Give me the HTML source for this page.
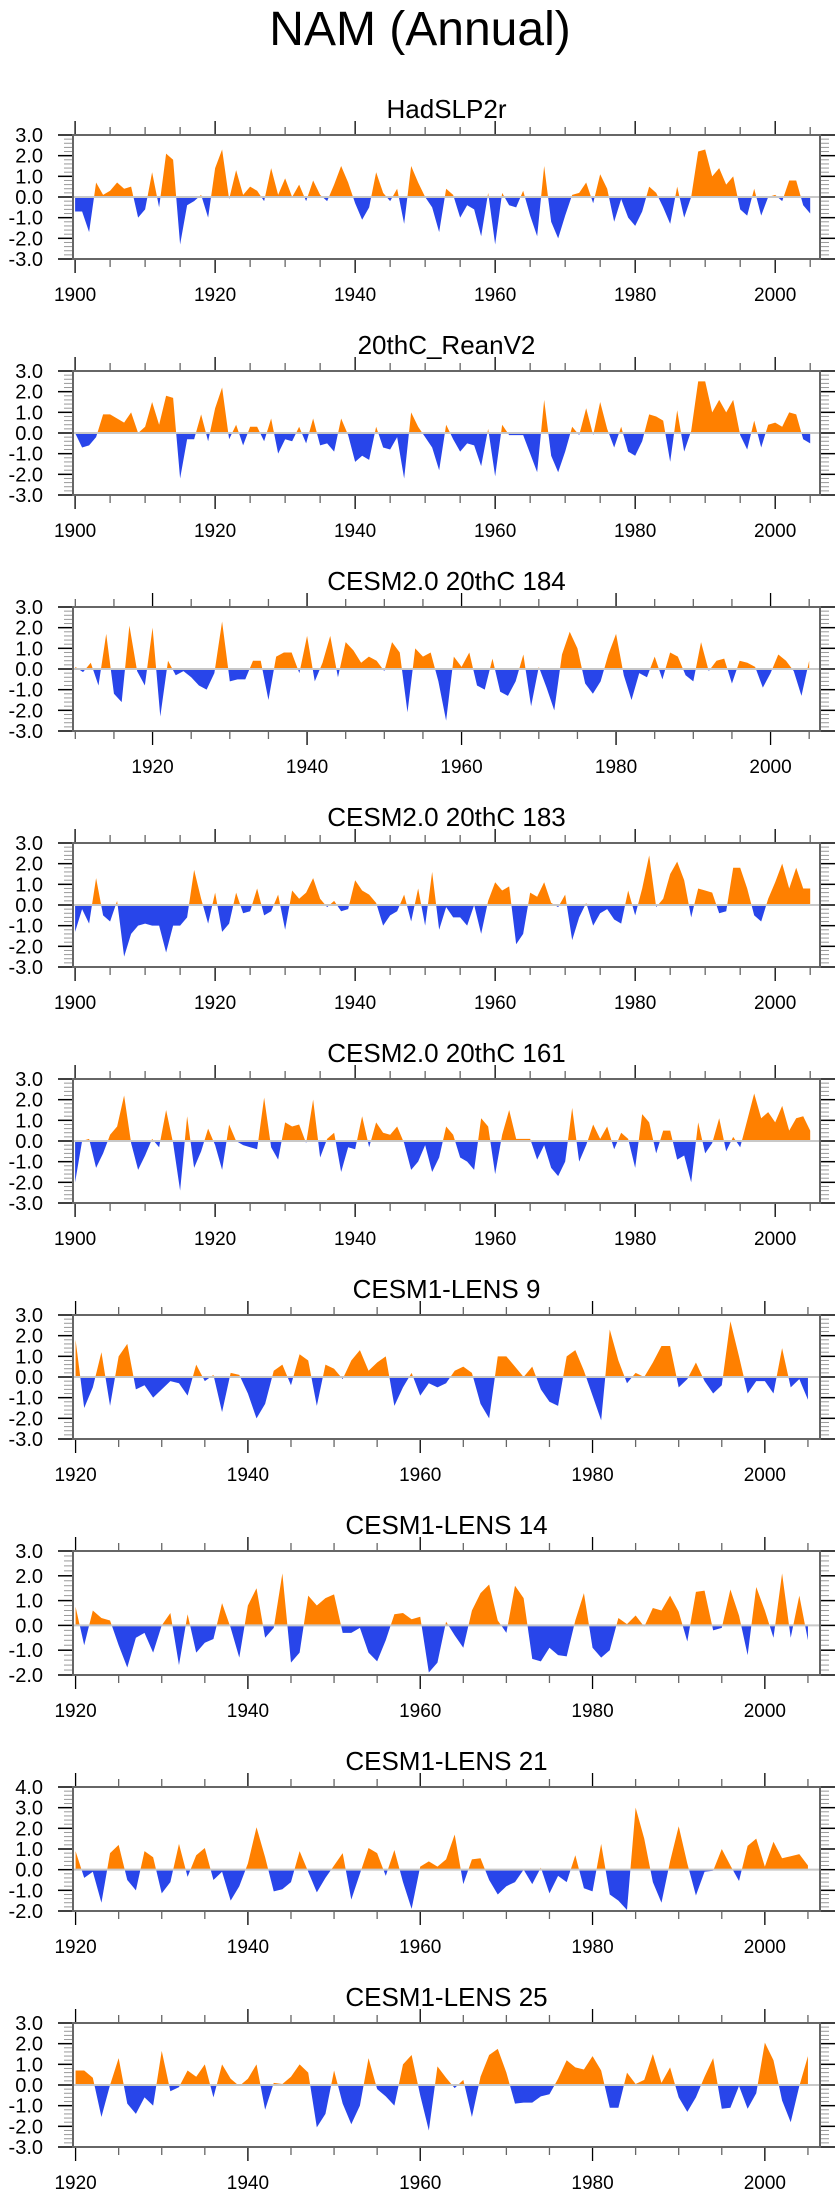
<!DOCTYPE html>
<html><head><meta charset="utf-8"><title>NAM (Annual)</title>
<style>
html,body{margin:0;padding:0;background:#fff;}
svg{display:block;font-family:"Liberation Sans",Arial,sans-serif;}
</style></head>
<body>
<svg id="fig" width="840" height="2200" viewBox="0 0 840 2200" xmlns="http://www.w3.org/2000/svg">
<rect width="840" height="2200" fill="#fff"/>
<text x="420" y="45" font-size="48" text-anchor="middle" fill="#000">NAM (Annual)</text>
</svg>
<script>
const panelTitles = ["HadSLP2r","20thC_ReanV2","CESM2.0 20thC 184","CESM2.0 20thC 183","CESM2.0 20thC 161","CESM1-LENS 9","CESM1-LENS 14","CESM1-LENS 21","CESM1-LENS 25"];
const startYears = [1900,1900,1910,1900,1900,1920,1920,1920,1920];
const yMins = [-3,-3,-3,-3,-3,-3,-2,-2,-3];
const yMaxs = [3,3,3,3,3,3,3,4,3];
const yTickLabels = [["-3.0","-2.0","-1.0","0.0","1.0","2.0","3.0"],["-3.0","-2.0","-1.0","0.0","1.0","2.0","3.0"],["-3.0","-2.0","-1.0","0.0","1.0","2.0","3.0"],["-3.0","-2.0","-1.0","0.0","1.0","2.0","3.0"],["-3.0","-2.0","-1.0","0.0","1.0","2.0","3.0"],["-3.0","-2.0","-1.0","0.0","1.0","2.0","3.0"],["-2.0","-1.0","0.0","1.0","2.0","3.0"],["-2.0","-1.0","0.0","1.0","2.0","3.0","4.0"],["-3.0","-2.0","-1.0","0.0","1.0","2.0","3.0"]];

const hadslp2r = [-0.7,-0.7,-1.7,0.7,0.1,0.3,0.7,0.4,0.5,-1.0,-0.6,1.2,-0.5,2.1,1.8,-2.3,-0.4,-0.2,0.1,-1.0,1.4,2.3,-0.1,1.3,0.1,0.5,0.3,-0.2,1.4,0.1,0.9,0.0,0.6,-0.2,0.8,0.1,-0.2,0.6,1.5,0.7,-0.3,-1.1,-0.5,1.2,0.2,-0.2,0.4,-1.3,1.5,0.7,0.0,-0.5,-1.7,0.4,0.1,-1.0,-0.4,-0.6,-1.9,0.2,-2.3,0.2,-0.4,-0.5,0.3,-0.9,-1.9,1.5,-1.2,-2.0,-0.9,0.1,0.2,0.7,-0.3,1.1,0.4,-1.2,-0.1,-1.0,-1.4,-0.7,0.5,0.2,-0.5,-1.3,0.5,-1.0,0.0,2.2,2.3,1.0,1.4,0.6,1.0,-0.6,-0.9,0.4,-0.9,0.0,0.1,-0.2,0.8,0.8,-0.4,-0.8];
const reanV2 = [0.0,-0.7,-0.6,-0.2,0.9,0.9,0.7,0.5,1.0,0.0,0.3,1.5,0.4,1.8,1.7,-2.2,-0.3,-0.3,0.9,-0.4,1.2,2.2,-0.3,0.4,-0.6,0.3,0.3,-0.4,0.7,-1.0,-0.3,-0.4,0.3,-0.5,0.7,-0.6,-0.5,-0.9,0.7,-0.1,-1.4,-1.1,-1.3,0.3,-0.7,-0.8,-0.2,-2.2,1.0,0.3,-0.2,-0.7,-1.8,0.4,-0.3,-0.9,-0.5,-0.6,-1.6,0.2,-2.1,0.4,-0.1,-0.1,-0.1,-1.0,-1.9,1.6,-1.1,-1.9,-0.9,0.3,-0.1,1.2,-0.1,1.5,0.2,-0.7,0.3,-0.9,-1.1,-0.4,0.9,0.8,0.6,-1.4,1.1,-0.9,0.1,2.5,2.5,1.0,1.6,1.0,1.6,-0.1,-0.8,0.6,-0.7,0.4,0.5,0.3,1.0,0.9,-0.3,-0.5];
const cesm2m184 = [0.1,-0.15,0.3,-0.8,1.7,-1.2,-1.6,2.1,-0.1,-0.8,2.0,-2.3,0.4,-0.3,-0.1,-0.4,-0.8,-1.0,-0.2,2.3,-0.6,-0.5,-0.5,0.4,0.4,-1.5,0.6,0.8,0.8,-0.2,1.6,-0.6,0.3,1.6,-0.4,1.3,0.9,0.3,0.6,0.4,-0.1,1.3,0.8,-2.1,1.0,0.6,0.8,-0.6,-2.5,0.6,0.1,0.8,-0.8,-1.0,0.5,-1.1,-1.3,-0.6,0.7,-1.8,0.1,-0.9,-2.0,0.7,1.8,1.0,-0.7,-1.2,-0.6,0.7,1.7,-0.3,-1.5,-0.2,-0.4,0.6,-0.5,0.8,0.6,-0.3,-0.6,1.3,-0.1,0.4,0.5,-0.7,0.4,0.3,0.1,-0.9,-0.2,0.7,0.4,-0.1,-1.3,0.4];
const cesm2m183 = [-1.3,-0.2,-0.9,1.3,-0.5,-0.8,0.2,-2.5,-1.4,-1.0,-0.9,-1.0,-1.0,-2.3,-1.0,-1.0,-0.6,1.7,0.3,-0.9,0.6,-1.3,-0.9,0.6,-0.4,-0.3,0.8,-0.5,-0.3,0.5,-1.2,0.7,0.3,0.6,1.3,0.3,-0.1,0.2,-0.3,-0.2,1.2,0.7,0.5,0.1,-1.0,-0.5,-0.3,0.5,-0.8,0.8,-1.0,1.6,-1.2,-0.1,-0.6,-0.6,-1.0,0.0,-1.4,0.2,1.1,0.7,0.9,-1.9,-1.4,0.6,0.4,1.1,0.1,-0.1,0.5,-1.7,-0.6,0.1,-1.0,-0.4,-0.2,-0.7,-0.9,0.7,-0.5,0.8,2.4,-0.1,0.3,1.5,2.1,1.2,-0.6,0.8,0.7,0.6,-0.4,-0.3,1.8,1.8,0.8,-0.5,-0.8,0.3,1.1,2.0,0.8,1.8,0.8,0.8];
const cesm2m161 = [-2.0,0.0,0.1,-1.3,-0.6,0.3,0.7,2.2,-0.1,-1.4,-0.7,0.1,-0.3,1.5,-0.1,-2.4,1.2,-1.3,-0.5,0.6,-0.2,-1.4,0.8,0.0,-0.2,-0.3,-0.4,2.1,-0.3,-0.9,0.9,0.7,0.8,-0.1,2.0,-0.8,0.1,0.4,-1.5,-0.3,-0.4,1.2,-0.3,0.9,0.4,0.3,0.7,-0.1,-1.4,-1.0,-0.2,-1.5,-0.8,0.7,0.3,-0.8,-1.0,-1.4,1.1,0.7,-1.6,0.3,1.5,0.1,0.1,0.1,-0.9,-0.2,-1.3,-1.7,-1.0,1.6,-1.0,-0.2,0.8,0.1,0.7,-0.4,0.4,0.1,-1.3,1.3,0.9,-0.6,0.5,0.5,-0.9,-0.7,-2.0,0.9,-0.6,-0.1,1.1,-0.5,0.2,-0.3,1.0,2.3,1.1,1.4,0.9,1.7,0.5,1.1,1.2,0.5];
const lens9 = [1.8,-1.5,-0.5,1.2,-1.4,1.0,1.6,-0.6,-0.4,-1.0,-0.6,-0.2,-0.3,-0.9,0.6,-0.2,0.1,-1.7,0.2,0.1,-0.8,-2.0,-1.3,0.3,0.6,-0.4,1.1,0.8,-1.4,0.6,0.4,-0.1,0.8,1.3,0.3,0.7,1.0,-1.4,-0.5,0.2,-0.9,-0.3,-0.5,-0.3,0.3,0.5,0.2,-1.3,-2.0,1.0,1.0,0.5,0.0,0.5,-0.6,-1.2,-1.4,1.0,1.3,0.3,-0.9,-2.1,2.3,0.8,-0.3,0.2,0.0,0.7,1.5,1.5,-0.5,-0.1,0.7,-0.2,-0.8,-0.4,2.7,1.0,-0.8,-0.2,-0.2,-0.8,1.4,-0.5,-0.1,-1.1];
const lens14 = [0.75,-0.8,0.6,0.3,0.2,-0.8,-1.7,-0.5,-0.3,-1.1,0.0,0.5,-1.6,0.45,-1.1,-0.7,-0.55,0.9,-0.1,-1.3,0.8,1.5,-0.5,-0.1,2.1,-1.5,-1.1,1.2,0.8,1.1,1.25,-0.3,-0.3,-0.1,-1.1,-1.45,-0.6,0.45,0.5,0.25,0.35,-1.9,-1.5,0.15,-0.4,-0.9,0.6,1.3,1.65,0.2,-0.3,1.6,1.1,-1.35,-1.45,-0.9,-1.2,-1.25,0.2,1.3,-0.9,-1.3,-1.0,0.3,0.05,0.4,-0.05,0.7,0.6,1.2,0.55,-0.65,1.35,1.4,-0.2,-0.1,1.45,0.4,-1.2,1.55,0.6,-0.5,2.1,-0.5,1.2,-0.6];
const lens21 = [0.9,-0.4,-0.1,-1.6,0.8,1.2,-0.5,-1.0,0.9,0.6,-1.15,-0.6,1.25,-0.35,0.7,1.05,-0.5,-0.1,-1.5,-0.8,0.3,2.05,0.6,-1.05,-0.95,-0.6,0.9,-0.1,-1.1,-0.4,0.2,0.8,-1.45,-0.2,1.05,0.8,-0.3,0.95,-0.6,-1.9,0.15,0.4,0.15,0.5,1.7,-0.7,0.5,0.55,-0.5,-1.2,-0.8,-0.6,0.0,-0.7,0.1,-1.15,-0.3,-0.6,0.7,-0.9,-1.05,1.25,-1.2,-1.5,-1.95,3.0,1.5,-0.6,-1.6,0.4,2.1,0.3,-1.25,-0.1,-0.05,1.0,0.2,-0.55,1.15,1.5,0.15,1.35,0.55,0.65,0.75,0.2];
const lens25 = [0.7,0.7,0.35,-1.55,0.0,1.3,-0.9,-1.4,-0.6,-1.0,1.65,-0.3,-0.1,0.7,0.4,1.0,-0.6,1.0,0.3,-0.05,0.3,1.0,-1.2,0.1,0.05,0.4,1.0,0.6,-2.05,-1.4,0.7,-0.9,-1.9,-1.0,1.3,-0.2,-0.55,-1.0,1.0,1.45,-0.5,-2.2,0.9,0.35,-0.15,0.25,-1.55,0.4,1.45,1.75,0.6,-0.9,-0.85,-0.85,-0.55,-0.45,0.3,1.2,0.85,0.75,1.4,0.7,-1.1,-1.1,0.6,0.05,0.25,1.5,0.1,0.85,-0.6,-1.3,-0.6,0.4,1.3,-1.15,-1.1,-0.05,-1.15,-0.4,2.05,1.2,-0.75,-1.8,-0.05,1.4];

const seriesList = [hadslp2r, reanV2, cesm2m184, cesm2m183, cesm2m161, lens9, lens14, lens21, lens25];

const NS = "http://www.w3.org/2000/svg";
const svg = document.getElementById("fig");
const BOX_L = 73, BOX_R = 820, BOX_H = 124, TOP0 = 135, STEP = 236, XMAX = 2006.4;
function mk(tag, attrs, parent){ const e = document.createElementNS(NS, tag); for (const k in attrs) e.setAttribute(k, attrs[k]); (parent||svg).appendChild(e); return e; }

seriesList.forEach((vals, p) => {
  const top = TOP0 + STEP * p, bot = top + BOX_H;
  const x0 = startYears[p] - 0.3;
  const xs = yr => BOX_L + (yr - x0) / (XMAX - x0) * (BOX_R - BOX_L);
  const ys = v => bot - (v - yMins[p]) / (yMaxs[p] - yMins[p]) * BOX_H;
  const g = mk("g", {});
  
  

  const t = mk("text", {x: (BOX_L + BOX_R) / 2, y: top - 17, "font-size": 26, "text-anchor": "middle", fill: "#000"}, g);
  t.textContent = panelTitles[p];
  
  

  const y0 = ys(0);
  let pts = xs(startYears[p]) + "," + y0 + " ";
  vals.forEach((v, i) => { pts += xs(startYears[p] + i).toFixed(2) + "," + ys(v).toFixed(2) + " "; });
  pts += xs(startYears[p] + vals.length - 1) + "," + y0;
  const cidP = "cp" + p, cidN = "cn" + p;
  const defs = mk("defs", {}, g);
  const c1 = mk("clipPath", {id: cidP}, defs); mk("rect", {x: BOX_L, y: top, width: BOX_R - BOX_L, height: y0 - top}, c1);
  const c2 = mk("clipPath", {id: cidN}, defs); mk("rect", {x: BOX_L, y: y0, width: BOX_R - BOX_L, height: bot - y0}, c2);
  const pos = mk("polygon", {points: pts, fill: "#ff8000", "clip-path": "url(#" + cidP + ")"}, g);
  
  
  const neg = mk("polygon", {points: pts, fill: "#2845ea", "clip-path": "url(#" + cidN + ")"}, g);
  
  
  const zl = mk("line", {x1: BOX_L, x2: BOX_R, y1: y0, y2: y0, stroke: "#c8c8c8", "stroke-width": 2}, g);
  
  

  for (let v = yMins[p]; v <= yMaxs[p] + 1e-6; v += 0.2) {
    const vv = Math.round(v * 10) / 10;
    const isMaj = Math.abs(vv - Math.round(vv)) < 1e-6;
    const y = ys(vv);
    if (isMaj) {
      mk("line", {x1: BOX_L - 15, x2: BOX_L, y1: y, y2: y, stroke: "#000", "stroke-width": 1.5}, g);
      mk("line", {x1: BOX_R, x2: BOX_R + 15, y1: y, y2: y, stroke: "#000", "stroke-width": 1.5}, g);
    } else {
      mk("line", {x1: BOX_L - 9, x2: BOX_L, y1: y, y2: y, stroke: "#999", "stroke-width": 1}, g);
      mk("line", {x1: BOX_R, x2: BOX_R + 9, y1: y, y2: y, stroke: "#999", "stroke-width": 1}, g);
    }
  }
  yTickLabels[p].forEach((lab, i) => {
    const yl = mk("text", {x: 43, y: ys(yMins[p] + i) + 7, "font-size": 20, "text-anchor": "end", fill: "#000"}, g);
    yl.textContent = lab;
    
    
  });

  for (let yr = startYears[p]; yr <= 2005; yr += 5) {
    const x = xs(yr);
    const isMaj = yr % 20 === 0;
    const L = isMaj ? 14 : 8;
    mk("line", {x1: x, x2: x, y1: bot, y2: bot + L, stroke: isMaj ? "#000" : "#666", "stroke-width": 1.3}, g);
    mk("line", {x1: x, x2: x, y1: top - L, y2: top, stroke: isMaj ? "#000" : "#666", "stroke-width": 1.3}, g);
    if (isMaj) {
      const xl = mk("text", {x: x, y: bot + 42, "font-size": 19, "text-anchor": "middle", fill: "#000"}, g);
      xl.textContent = String(yr);
      
      
    }
  }
  const box = mk("rect", {x: BOX_L, y: top, width: BOX_R - BOX_L, height: BOX_H, fill: "none", stroke: "#666", "stroke-width": 2}, g);
  
  
});
</script>
</body></html>
